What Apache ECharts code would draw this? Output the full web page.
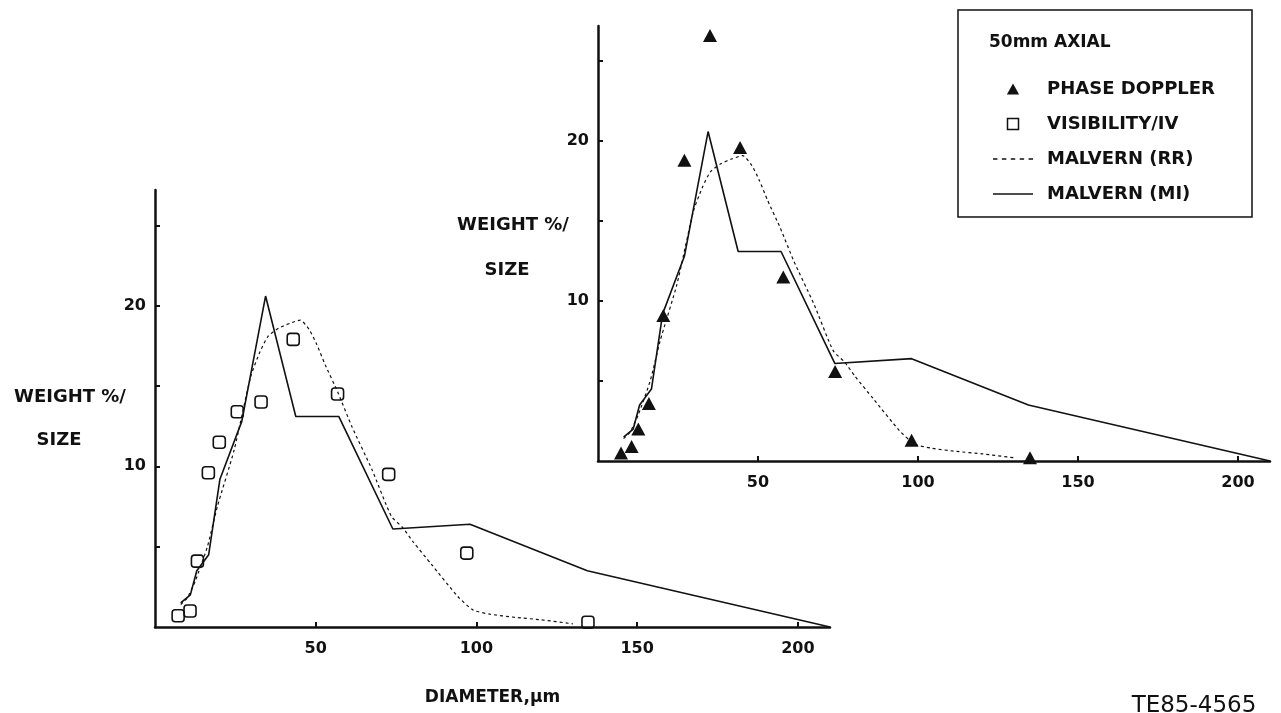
<!DOCTYPE html>
<html>
<head>
<meta charset="utf-8">
<script src="https://cdn.jsdelivr.net/npm/echarts@6/dist/echarts.min.js"></script>
<style>
  html, body { margin: 0; padding: 0; background: #fff; }
  #chart { width: 1281px; height: 713px; }
</style>
</head>
<body>
<div id="chart"></div>
<script>
// ---- data ----
// Visibility/IV (left panel, open squares)
const visDiameter = [7.2, 10.9, 13.2, 16.6, 20.0, 25.6, 33.0, 43.0, 56.8, 72.7, 97.0, 134.7];
const visWeight   = [0.7, 1.0, 4.1, 9.6, 11.5, 13.4, 14.0, 17.9, 14.5, 9.5, 4.6, 0.3];

// Phase Doppler (right panel, filled triangles)
const pdDiameter = [7.2, 10.5, 12.6, 15.9, 20.4, 27.0, 35.0, 44.4, 57.9, 74.1, 98.0, 135.0];
const pdWeight   = [0.5, 0.9, 2.0, 3.6, 9.1, 18.8, 26.6, 19.6, 11.5, 5.6, 1.3, 0.2];

// Malvern (RR) dotted curve (both panels)
const rrDiameter = [8, 10, 12.6, 16.3, 19.4, 24.6, 29.8, 32.6, 35.2, 38.5, 42, 45.2, 48, 50.3, 53, 56.9, 61.2, 67.5, 73.5, 77, 80.3, 86, 94.2, 99, 104.2, 112, 120, 130];
const rrWeight   = [1.4, 1.8, 2.9, 5.0, 7.5, 11.0, 15.6, 17.1, 18.1, 18.6, 18.9, 19.1, 18.5, 17.6, 16.3, 14.6, 12.5, 9.8, 6.9, 6.2, 5.3, 3.9, 1.9, 1.05, 0.8, 0.6, 0.45, 0.2];

// Malvern (MI) solid line (both panels)
const miDiameter = [8, 11, 13, 16.7, 20.2, 27, 34.4, 43.8, 57.2, 74, 98, 134.5, 210];
const miWeight   = [1.5, 2.0, 3.5, 4.5, 9.2, 12.8, 20.6, 13.1, 13.1, 6.1, 6.4, 3.5, 0];

// axis ticks / labels
const xTicks = [50, 100, 150, 200];
const yTicks = [5, 10, 15, 20, 25];
const yLabels = [10, 20];

// legend entries
const legendNames = ['PHASE DOPPLER', 'VISIBILITY/IV', 'MALVERN (RR)', 'MALVERN (MI)'];

const FONT = 'DejaVu Sans';
const INK = '#111';

function pairs(xs, ys) { return xs.map((x, i) => [x, ys[i]]); }

function makeX(gi, withName) {
  const ax = {
    gridIndex: gi, type: 'value', min: 0, max: 210, interval: 50,
    axisLine: { show: true, onZero: false, lineStyle: { color: INK, width: 2.5 } },
    axisTick: { show: true, inside: true, length: 5, customValues: xTicks, lineStyle: { color: INK, width: 2 } },
    axisLabel: {
      show: true, margin: 14, customValues: xTicks,
      fontFamily: FONT, fontSize: 16, fontWeight: 'bold', color: INK,
      formatter: v => (xTicks.indexOf(v) >= 0 ? String(v) : '')
    },
    splitLine: { show: false }
  };
  if (withName) {
    ax.name = 'DIAMETER,\u00b5m';
    ax.nameLocation = 'middle';
    ax.nameGap = 62;
    ax.nameTextStyle = { fontFamily: FONT, fontSize: 17, fontWeight: 'bold', color: INK };
  }
  return ax;
}
function makeY(gi) {
  return {
    gridIndex: gi, type: 'value', min: 0, max: 27.2, interval: 5,
    axisLine: { show: true, onZero: false, lineStyle: { color: INK, width: 2.5 } },
    axisTick: { show: true, inside: true, length: 5, customValues: yTicks, lineStyle: { color: INK, width: 2 } },
    axisLabel: {
      show: true, margin: 9, customValues: yLabels,
      fontFamily: FONT, fontSize: 16, fontWeight: 'bold', color: INK,
      formatter: v => (yLabels.indexOf(v) >= 0 ? String(v) : '')
    },
    splitLine: { show: false }
  };
}

const rrLine = { color: INK, width: 1.2, type: [3, 3] };
const miLine = { color: INK, width: 1.6, type: 'solid' };

const ICON_TRI = 'path://M5,0L10,9L0,9Z';
const ICON_SQ = 'path://M0,0h10v10h-10z';
const ICON_DASH = 'path://M0,0h4v1.2h-4z M8,0h4v1.2h-4z M16,0h4v1.2h-4z M24,0h4v1.2h-4z M32,0h4v1.2h-4z';
const ICON_SOLID = 'path://M0,0h40v1.6h-40z';

const option = {
  animation: false,
  backgroundColor: '#fff',
  grid: [
    { left: 155, top: 190, width: 675, height: 437 },
    { left: 598, top: 26, width: 672, height: 435 }
  ],
  xAxis: [makeX(0, true), makeX(1, false)],
  yAxis: [makeY(0), makeY(1)],
  legend: {
    orient: 'vertical', left: 993, top: 80, padding: 0,
    itemWidth: 40, itemHeight: 11, itemGap: 17,
    selectedMode: false,
    data: [
      { name: legendNames[0], icon: ICON_TRI, itemStyle: { color: INK, opacity: 1 } },
      { name: legendNames[1], icon: ICON_SQ, itemStyle: { color: 'rgba(255,255,255,0)', borderColor: INK, borderWidth: 1.5, opacity: 1 } },
      { name: legendNames[2], icon: ICON_DASH, itemStyle: { color: INK, borderWidth: 0, opacity: 1 } },
      { name: legendNames[3], icon: ICON_SOLID, itemStyle: { color: INK, borderWidth: 0, opacity: 1 } }
    ],
    textStyle: { fontFamily: FONT, fontSize: 18, fontWeight: 'bold', color: INK, lineHeight: 18, padding: [0, 0, 0, 9] }
  },
  series: [
    { name: 'MALVERN (RR)', type: 'line', xAxisIndex: 0, yAxisIndex: 0, data: pairs(rrDiameter, rrWeight),
      symbol: 'none', smooth: 0.2, lineStyle: rrLine, itemStyle: { color: INK }, z: 2 },
    { name: 'MALVERN (MI)', type: 'line', xAxisIndex: 0, yAxisIndex: 0, data: pairs(miDiameter, miWeight),
      symbol: 'none', lineStyle: miLine, itemStyle: { color: INK }, z: 2 },
    { name: 'VISIBILITY/IV', type: 'scatter', xAxisIndex: 0, yAxisIndex: 0, data: pairs(visDiameter, visWeight),
      symbol: 'roundRect', symbolSize: 12,
      itemStyle: { color: 'rgba(255,255,255,0)', borderColor: INK, borderWidth: 1.6, opacity: 1 }, z: 3 },
    { name: 'MALVERN (RR)', type: 'line', xAxisIndex: 1, yAxisIndex: 1, data: pairs(rrDiameter, rrWeight),
      symbol: 'none', smooth: 0.2, lineStyle: rrLine, itemStyle: { color: INK }, z: 2 },
    { name: 'MALVERN (MI)', type: 'line', xAxisIndex: 1, yAxisIndex: 1, data: pairs(miDiameter, miWeight),
      symbol: 'none', lineStyle: miLine, itemStyle: { color: INK }, z: 2 },
    { name: 'PHASE DOPPLER', type: 'scatter', xAxisIndex: 1, yAxisIndex: 1, data: pairs(pdDiameter, pdWeight),
      symbol: 'triangle', symbolSize: [14, 13], itemStyle: { color: INK, opacity: 1 }, z: 3 }
  ],
  graphic: [
    { type: 'rect', shape: { x: 958, y: 10, width: 294, height: 207 },
      style: { fill: 'none', stroke: INK, lineWidth: 1.5 } },
    { type: 'text', x: 989, y: 43,
      style: { text: '50mm AXIAL', font: 'bold 17px "DejaVu Sans"', fill: INK, verticalAlign: 'middle' } },
    { type: 'text', x: 70, y: 397,
      style: { text: 'WEIGHT %/', font: 'bold 18px "DejaVu Sans"', fill: INK, align: 'center', verticalAlign: 'middle' } },
    { type: 'text', x: 59, y: 440,
      style: { text: 'SIZE', font: 'bold 18px "DejaVu Sans"', fill: INK, align: 'center', verticalAlign: 'middle' } },
    { type: 'text', x: 513, y: 225,
      style: { text: 'WEIGHT %/', font: 'bold 18px "DejaVu Sans"', fill: INK, align: 'center', verticalAlign: 'middle' } },
    { type: 'text', x: 507, y: 270,
      style: { text: 'SIZE', font: 'bold 18px "DejaVu Sans"', fill: INK, align: 'center', verticalAlign: 'middle' } },
    { type: 'text', x: 1194, y: 706,
      style: { text: 'TE85-4565', font: '23px "DejaVu Sans"', fill: INK, align: 'center', verticalAlign: 'middle' } }
  ]
};

const chart = echarts.init(document.getElementById('chart'), null, { renderer: 'canvas' });
chart.setOption(option);
</script>
</body>
</html>
